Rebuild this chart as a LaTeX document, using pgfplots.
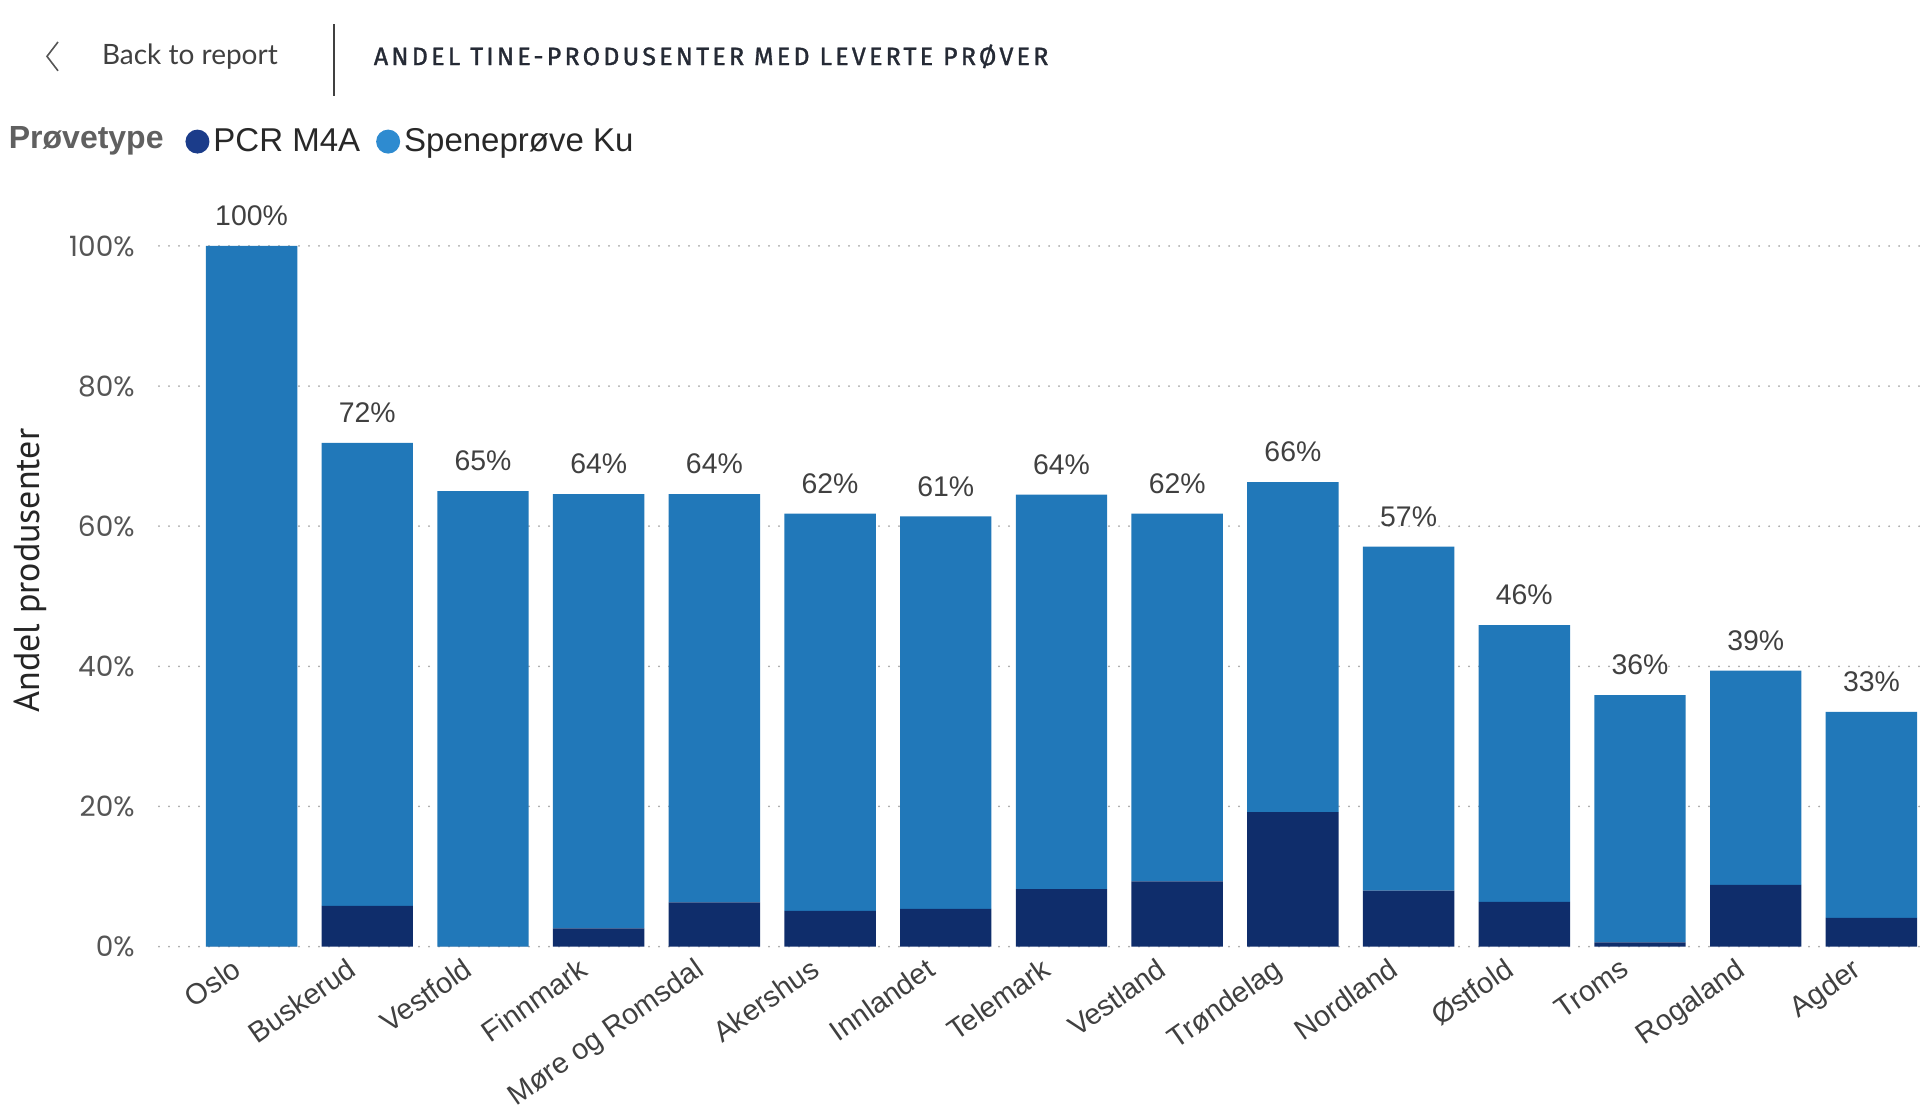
\documentclass[border=0pt]{standalone}
\usepackage{fontspec}
\setmainfont{Liberation Sans}
\newfontfamily\tickfont{Poppins}
\newfontfamily\headfont[LetterSpace=12.5, FakeBold=1.2]{Fira Sans}
\newfontfamily\narrowfont{PT Sans}
\newfontfamily\lightfont{Lato}
\usepackage{pgfplots}
\pgfplotsset{compat=1.18}
\usepackage{pgfplotstable}

\definecolor{pcr}{HTML}{0F2D6B}
\definecolor{spene}{HTML}{2178B9}
\definecolor{pcrdot}{HTML}{1B3C8A}
\definecolor{spenedot}{HTML}{2E8BD0}
\definecolor{gridgray}{HTML}{A8A8A8}
\definecolor{labgray}{HTML}{404040}
\definecolor{tickgray}{HTML}{555555}

% region, PCR M4A, Speneprove Ku (stacked), label of total
\pgfplotstableread{
x pcr spene top lab
0  0.0 100.0 0 100
1  5.8  66.1 0 72
2  0.0  65.0 0 65
3  2.6  62.0 0 64
4  6.3  58.3 0 64
5  5.1  56.7 0 62
6  5.4  56.0 0 61
7  8.2  56.3 0 64
8  9.3  52.5 0 62
9 19.2  47.1 0 66
10 8.0  49.1 0 57
11 6.4  39.5 0 46
12 0.6  35.3 0 36
13 8.8  30.6 0 39
14 4.1  29.4 0 33
}\data

\begin{document}
\begin{tikzpicture}
\useasboundingbox (0,0) rectangle (960pt,553pt);

% header
\draw[tickgray, line width=0.8pt] (29pt,532pt) -- (23.5pt,524.8pt) -- (29pt,517.6pt);
\node[anchor=west, font=\lightfont\fontsize{14}{16}\selectfont, text=labgray, inner sep=0pt] at (50.8pt,524.8pt) {Back to report};
\draw[labgray, line width=0.7pt] (167pt,540.8pt) -- (167pt,505.2pt);
\node[anchor=west, font=\headfont\fontsize{12.6}{14}\selectfont, text={rgb,255:red,37;green,42;blue,53}, inner sep=0pt] at (186.7pt,524.8pt) {ANDEL TINE-PRODUSENTER MED LEVERTE PRØVER};

\node[anchor=east, font=\bfseries\fontsize{16}{18}\selectfont, text={rgb,255:red,96;green,96;blue,96}, inner sep=0pt] at (82pt,482.4pt) {Prøvetype};

\node[rotate=90, font=\narrowfont\fontsize{18}{20}\selectfont, text={rgb,255:red,37;green,37;blue,37}] at (15.3pt,267.7pt) {Andel produsenter};

\begin{axis}[
  at={(79.5pt,79.7pt)}, anchor=south west,
  scale only axis, width=880.5pt, height=350.3pt,
  xmin=-0.8, xmax=14.42, ymin=0, ymax=100,
  ybar stacked, bar width=0.79,
  stacked ignores zero=false,
  clip=false,
  axis line style={draw=none},
  major tick length=0pt,
  xtick={0,...,14},
  xticklabels={Oslo,Buskerud,Vestfold,Finnmark,Møre og Romsdal,Akershus,Innlandet,Telemark,Vestland,Trøndelag,Nordland,Østfold,Troms,Rogaland,Agder},
  xticklabel style={font=\fontsize{14.5}{16}\selectfont, text=labgray, inner sep=0pt, xshift=-10.5pt, yshift=-4.8pt, rotate=35, anchor=north east},
  ytick={0,20,...,100},
  yticklabels={0\%,20\%,40\%,60\%,80\%,100\%},
  yticklabel style={font=\tickfont\fontsize{14}{16}\selectfont, text=tickgray, anchor=east, inner sep=0pt, xshift=-12pt},
  ymajorgrids,
  grid style={gridgray, line width=1pt, dash pattern=on 0pt off 5pt, line cap=round},
  legend style={at={(axis description cs:0.0148,1.149)}, anchor=west, draw=none, fill=none,
    font=\fontsize{16.5}{18}\selectfont, text={rgb,255:red,40;green,40;blue,40},
    legend columns=-1, inner sep=0pt,
    /tikz/every even column/.append style={column sep=6pt}},
]
\addplot[fill=pcr, draw=none,
  legend image code/.code={\fill[pcrdot] (5pt,0pt) circle (6pt);}]
  table[x=x, y=pcr] {\data};
\addlegendentry{PCR M4A}
\addplot[fill=spene, draw=none,
  legend image code/.code={\fill[spenedot] (5pt,0pt) circle (6pt);}]
  table[x=x, y=spene] {\data};
\addlegendentry{Speneprøve Ku}
% zero-height layer on top that carries the total labels
\addplot[draw=none, fill=none, forget plot,
  nodes near coords={\pgfplotspointmeta\%}, point meta=explicit symbolic,
  nodes near coords style={font=\fontsize{14.2}{16}\selectfont, text=labgray, anchor=south, yshift=6.5pt}]
  table[x=x, y=top, meta=lab] {\data};
\end{axis}
\end{tikzpicture}
\end{document}
